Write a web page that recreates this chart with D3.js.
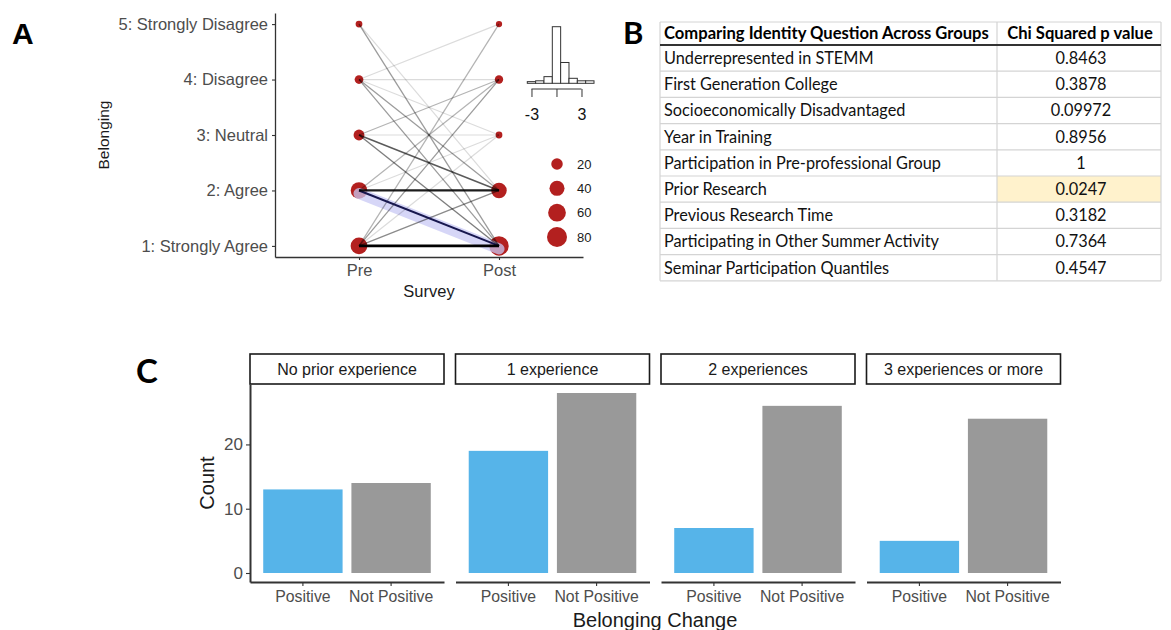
<!DOCTYPE html>
<html>
<head>
<meta charset="utf-8">
<script src="https://cdn.jsdelivr.net/npm/d3@7"></script>
<style>
  html, body { margin: 0; padding: 0; background: #fff; }
  svg { display: block; }
</style>
</head>
<body>
<svg id="fig" width="1171" height="630"></svg>
<script>
// ---------- Panel A: belonging before and after the programme ----------
const belongingLevels = ["1: Strongly Agree", "2: Agree", "3: Neutral", "4: Disagree", "5: Strongly Disagree"];
const surveyTimes = ["Pre", "Post"];
// respondents moving from a pre level (row, 1..5) to a post level (column, 1..5)
const transitionCounts = [
  [42, 4, 1, 3, 2],
  [22, 26, 1, 2, 0],
  [5, 9, 1, 2, 0],
  [3, 3, 1, 1, 1],
  [3, 1, 0, 0, 0]
];
const highlightedMove = [2, 1];          // Agree -> Strongly Agree
const sizeBreaks = [20, 40, 60, 80];
// inset histogram of change in belonging (pre minus post)
const changeBins = [-3, -2, -1, 0, 1, 2, 3, 4];
const changeCounts = [2, 3, 8, 68, 25, 6, 3, 3];

// ---------- Panel B: chi squared tests ----------
const tableHeaders = ["Comparing Identity Question Across Groups", "Chi Squared p value"];
const groupNames = [
  "Underrepresented in STEMM",
  "First Generation College",
  "Socioeconomically Disadvantaged",
  "Year in Training",
  "Participation in Pre-professional Group",
  "Prior Research",
  "Previous Research Time",
  "Participating in Other Summer Activity",
  "Seminar Participation Quantiles"
];
const pValues = ["0.8463", "0.3878", "0.09972", "0.8956", "1", "0.0247", "0.3182", "0.7364", "0.4547"];
const highlightedGroup = "Prior Research";

// ---------- Panel C: belonging change by prior research experience ----------
const experienceGroups = ["No prior experience", "1 experience", "2 experiences", "3 experiences or more"];
const changeCategories = ["Positive", "Not Positive"];
const positiveCounts = [13, 19, 7, 5];
const notPositiveCounts = [14, 28, 26, 24];
const countTicks = [0, 10, 20];

const sans = "'Liberation Sans', Arial, sans-serif";
const tableFont = "Lato, 'Open Sans', sans-serif";
const tickGrey = "#4d4d4d";

const svg = d3.select("#fig");
svg.append("rect").attr("width", 1171).attr("height", 630).attr("fill", "#fff");

function styleAxis(g, fontSize, color) {
  g.select(".domain").attr("stroke", "#333").attr("stroke-width", 1.3);
  g.selectAll(".tick line").attr("stroke", "#333").attr("stroke-width", 1.1);
  g.selectAll(".tick text").attr("fill", color).attr("font-size", fontSize).attr("font-family", sans);
}

// panel letters
svg.append("text").attr("x", 12).attr("y", 44).text("A")
  .attr("font-family", sans).attr("font-weight", "bold").attr("font-size", 30).attr("fill", "#000");
svg.append("text").attr("x", 623).attr("y", 44).text("B")
  .attr("font-family", tableFont).attr("font-weight", "bold").attr("font-size", 31).attr("fill", "#000");
svg.append("text").attr("x", 136).attr("y", 383).text("C")
  .attr("font-family", tableFont).attr("font-weight", "bold").attr("font-size", 33).attr("fill", "#000");

// ================= Panel A =================
const gA = svg.append("g");
const yA = d3.scaleLinear().domain([0.8, 5.2]).range([257, 13]);
const xA = d3.scalePoint().domain(surveyTimes).range([275, 583]).padding(0.6);

const yAxisA = gA.append("g").attr("transform", "translate(275,0)")
  .call(d3.axisLeft(yA).tickValues([1, 2, 3, 4, 5]).tickFormat(d => belongingLevels[d - 1])
    .tickSize(3).tickSizeOuter(0).tickPadding(4));
styleAxis(yAxisA, 16.5, tickGrey);
const xAxisA = gA.append("g").attr("transform", "translate(0,257)")
  .call(d3.axisBottom(xA).tickSize(3).tickSizeOuter(0).tickPadding(4));
styleAxis(xAxisA, 16.5, tickGrey);

gA.append("text").attr("transform", "translate(109,135) rotate(-90)").attr("text-anchor", "middle")
  .attr("font-family", sans).attr("font-size", 15.5).attr("fill", "#1a1a1a").text("Belonging");
gA.append("text").attr("x", 429).attr("y", 297).attr("text-anchor", "middle")
  .attr("font-family", sans).attr("font-size", 16.5).attr("fill", "#1a1a1a").text("Survey");

// totals at each level
const preTotals = transitionCounts.map(r => d3.sum(r));
const postTotals = transitionCounts[0].map((_, j) => d3.sum(transitionCounts, r => r[j]));
const rScale = d3.scaleSqrt().domain([0, 80]).range([1.5, 10]);

const points = [];
preTotals.forEach((n, i) => points.push({ time: "Pre", level: i + 1, n }));
postTotals.forEach((n, i) => points.push({ time: "Post", level: i + 1, n }));
gA.selectAll("circle.pt").data(points).join("circle").attr("class", "pt")
  .attr("cx", d => xA(d.time)).attr("cy", d => yA(d.level)).attr("r", d => rScale(d.n))
  .attr("fill", "#b3201f");

const moves = [];
transitionCounts.forEach((row, i) => row.forEach((n, j) => {
  if (n > 0) moves.push({ pre: i + 1, post: j + 1, n });
}));
moves.sort((a, b) => a.n - b.n);
const maxMove = d3.max(moves, d => d.n);
const alphaScale = d3.scaleLog().domain([1, maxMove]).range([0.14, 1]);
const widthScale = d3.scaleLinear().domain([1, maxMove]).range([1.2, 2.8]);

const isHighlight = d => d.pre === highlightedMove[0] && d.post === highlightedMove[1];
const hl = moves.find(isHighlight);
// soft band behind the highlighted move
gA.append("line")
  .attr("x1", xA("Pre")).attr("y1", yA(hl.pre) + 3).attr("x2", xA("Post")).attr("y2", yA(hl.post) + 3)
  .attr("stroke", "#c8c8f4").attr("stroke-opacity", 0.75).attr("stroke-width", 11).attr("stroke-linecap", "round");

gA.selectAll("line.move").data(moves).join("line").attr("class", "move")
  .attr("x1", xA("Pre")).attr("y1", d => yA(d.pre))
  .attr("x2", xA("Post")).attr("y2", d => yA(d.post))
  .attr("stroke", d => isHighlight(d) ? "#17174f" : "#000")
  .attr("stroke-opacity", d => isHighlight(d) ? 1 : alphaScale(d.n))
  .attr("stroke-width", d => widthScale(d.n));

// size legend
const legY = d3.scalePoint().domain(sizeBreaks).range([164, 237]);
const leg = gA.append("g");
leg.selectAll("circle").data(sizeBreaks).join("circle")
  .attr("cx", 557).attr("cy", d => legY(d)).attr("r", d => rScale(d)).attr("fill", "#b3201f");
leg.selectAll("text").data(sizeBreaks).join("text")
  .attr("x", 577).attr("y", d => legY(d)).attr("dy", "0.35em")
  .attr("font-family", sans).attr("font-size", 13).attr("fill", "#1a1a1a").text(d => d);

// inset histogram
const xH = d3.scaleLinear().domain([-3.5, 4.5]).range([527.3, 594]);
const yH = d3.scaleLinear().domain([0, 68]).range([83.3, 26.7]);
const hist = gA.append("g");
hist.selectAll("rect").data(changeBins).join("rect")
  .attr("x", d => xH(d - 0.5)).attr("width", d => xH(d + 0.5) - xH(d - 0.5))
  .attr("y", (d, i) => yH(changeCounts[i])).attr("height", (d, i) => yH(0) - yH(changeCounts[i]))
  .attr("fill", "#fff").attr("stroke", "#333").attr("stroke-width", 1);
const hAxis = hist.append("g").attr("transform", "translate(0,89)")
  .call(d3.axisBottom(xH).tickValues([-3, 0, 3]).tickFormat(d => d === 0 ? "" : String(d))
    .tickSize(8).tickPadding(12));
hAxis.select(".domain").attr("d", `M${xH(-3)},0H${xH(3)}`).attr("stroke", "#333").attr("stroke-width", 1);
hAxis.selectAll(".tick line").attr("stroke", "#333");
hAxis.selectAll(".tick text").attr("font-family", sans).attr("font-size", 16).attr("fill", "#111");

// ================= Panel B =================
const gB = svg.append("g");
const tLeft = 660, tDiv = 997, tRight = 1161, headTop = 22, headBottom = 45, rowH = 26.2;
const rowY = i => headBottom + i * rowH;

groupNames.forEach((name, i) => {
  if (name === highlightedGroup) {
    gB.append("rect").attr("x", tDiv).attr("y", rowY(i)).attr("width", tRight - tDiv).attr("height", rowH)
      .attr("fill", "#fff2cc");
  }
});
// grid
const gridColor = "#d4d4d4";
gB.append("line").attr("x1", tLeft).attr("x2", tRight).attr("y1", headTop).attr("y2", headTop)
  .attr("stroke", gridColor).attr("stroke-width", 1);
groupNames.forEach((_, i) => {
  gB.append("line").attr("x1", tLeft).attr("x2", tRight).attr("y1", rowY(i + 1)).attr("y2", rowY(i + 1))
    .attr("stroke", gridColor).attr("stroke-width", 1.2);
});
[tLeft, tDiv, tRight].forEach(x => {
  gB.append("line").attr("x1", x).attr("x2", x).attr("y1", headTop).attr("y2", rowY(groupNames.length))
    .attr("stroke", gridColor).attr("stroke-width", 1.2);
});
gB.append("line").attr("x1", tLeft).attr("x2", tRight).attr("y1", headBottom).attr("y2", headBottom)
  .attr("stroke", "#333").attr("stroke-width", 2);

gB.append("text").attr("x", tLeft + 4).attr("y", (headTop + headBottom) / 2).attr("dy", "0.36em")
  .attr("font-family", tableFont).attr("font-weight", "bold").attr("font-size", 16.6).attr("fill", "#000")
  .text(tableHeaders[0]);
gB.append("text").attr("x", (tDiv + tRight) / 2 + 1).attr("y", (headTop + headBottom) / 2).attr("dy", "0.36em")
  .attr("text-anchor", "middle")
  .attr("font-family", tableFont).attr("font-weight", "bold").attr("font-size", 16.6).attr("fill", "#000")
  .text(tableHeaders[1]);

gB.selectAll("text.name").data(groupNames).join("text").attr("class", "name")
  .attr("x", tLeft + 4).attr("y", (d, i) => rowY(i) + rowH / 2).attr("dy", "0.36em")
  .attr("font-family", tableFont).attr("font-size", 16.3).attr("fill", "#111").text(d => d);
gB.selectAll("text.pval").data(pValues).join("text").attr("class", "pval")
  .attr("x", (tDiv + tRight) / 2 + 2).attr("y", (d, i) => rowY(i) + rowH / 2).attr("dy", "0.36em")
  .attr("text-anchor", "middle")
  .attr("font-family", tableFont).attr("font-size", 16.3).attr("fill", "#111").text(d => d);

// ================= Panel C =================
const gC = svg.append("g");
const panelW = 194, panelStep = 205.5, panelX0 = 250;
const panelTop = 384, panelBottom = 582;
const yC = d3.scaleLinear().domain([-1.4, 29.4]).range([panelBottom, panelTop]);
const barColor = d3.scaleOrdinal().domain(changeCategories).range(["#56b4e9", "#999999"]);

experienceGroups.forEach((grp, gi) => {
  const left = panelX0 + gi * panelStep;
  const xC = d3.scaleBand().domain(changeCategories).range([left, left + panelW])
    .paddingInner(0.1).paddingOuter(0.15);
  const vals = [positiveCounts[gi], notPositiveCounts[gi]];
  const g = gC.append("g");

  g.selectAll("rect.bar").data(changeCategories).join("rect").attr("class", "bar")
    .attr("x", d => xC(d)).attr("width", xC.bandwidth())
    .attr("y", (d, i) => yC(vals[i])).attr("height", (d, i) => yC(0) - yC(vals[i]))
    .attr("fill", d => barColor(d));

  // facet strip
  g.append("rect").attr("x", left).attr("y", 354).attr("width", panelW).attr("height", 30)
    .attr("fill", "#fff").attr("stroke", "#1a1a1a").attr("stroke-width", 1.6);
  g.append("text").attr("x", left + panelW / 2).attr("y", 369).attr("dy", "0.36em").attr("text-anchor", "middle")
    .attr("font-family", sans).attr("font-size", 16).attr("fill", "#1a1a1a").text(grp);

  const xAx = g.append("g").attr("transform", `translate(0,${panelBottom})`)
    .call(d3.axisBottom(xC).tickSize(4).tickSizeOuter(0).tickPadding(5));
  styleAxis(xAx, 15.8, tickGrey);
  xAx.select(".domain").attr("stroke-width", 2);

  if (gi === 0) {
    const yAx = g.append("g").attr("transform", `translate(${left},0)`)
      .call(d3.axisLeft(yC).tickValues(countTicks).tickSize(4).tickSizeOuter(0).tickPadding(3));
    styleAxis(yAx, 17, tickGrey);
    yAx.select(".domain").attr("stroke-width", 2);
  }
});

gC.append("text").attr("transform", "translate(214,483) rotate(-90)").attr("text-anchor", "middle")
  .attr("font-family", sans).attr("font-size", 20).attr("fill", "#1a1a1a").text("Count");
gC.append("text").attr("x", 655).attr("y", 627).attr("text-anchor", "middle")
  .attr("font-family", sans).attr("font-size", 20).attr("fill", "#1a1a1a").text("Belonging Change");
</script>
</body>
</html>
